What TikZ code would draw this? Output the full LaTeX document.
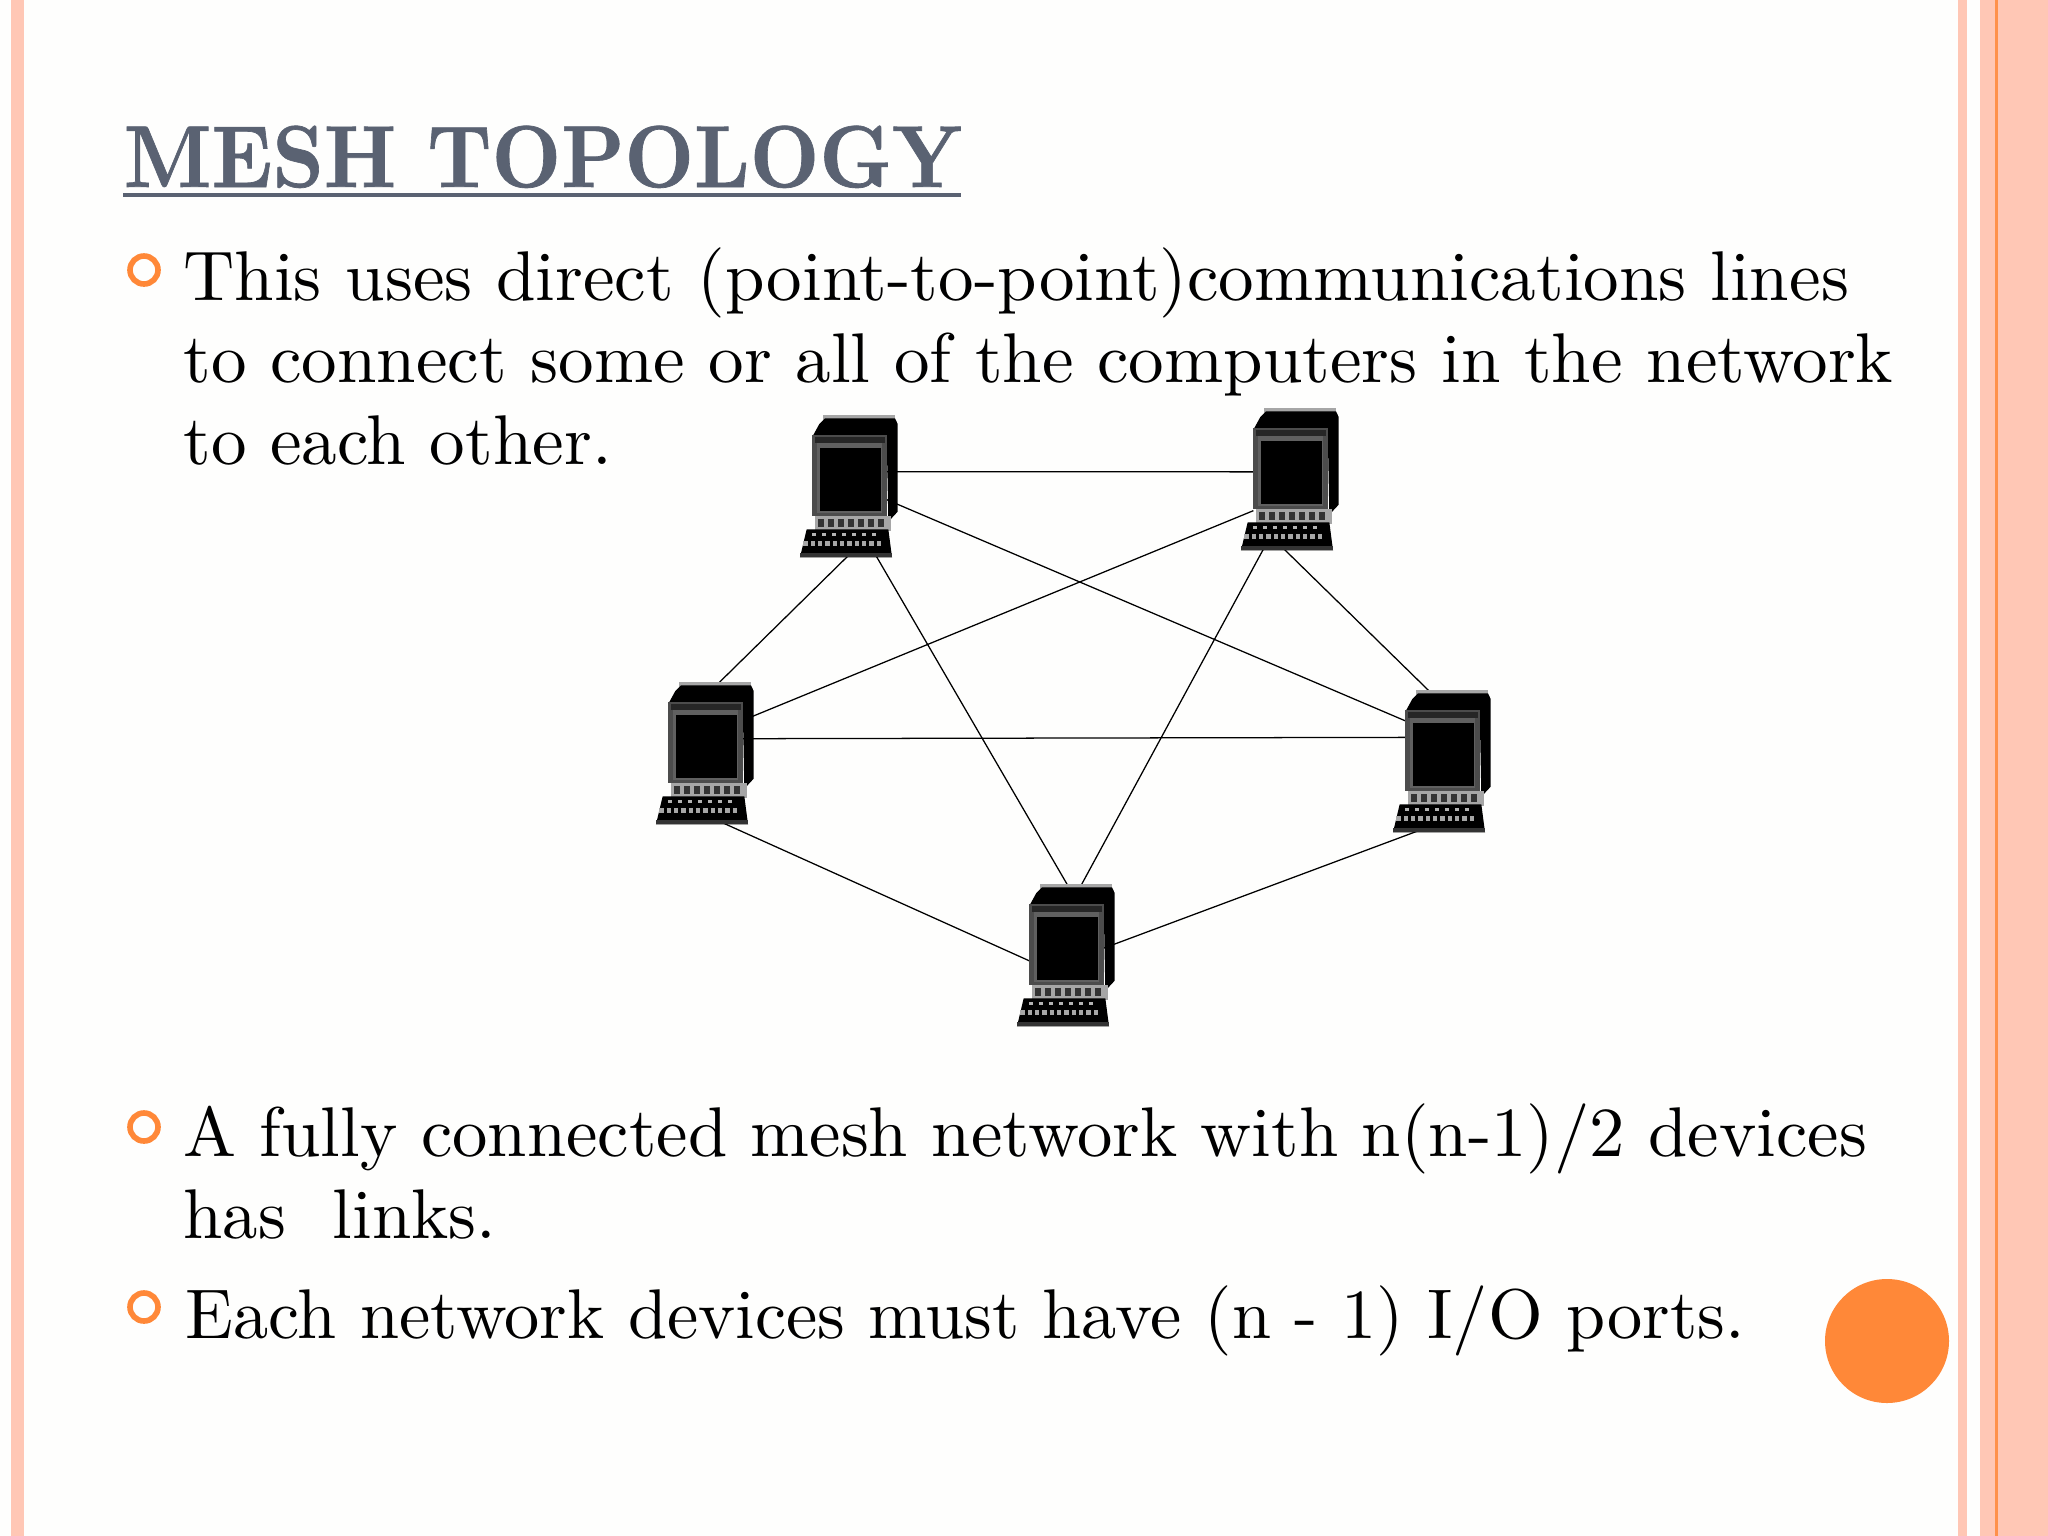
\documentclass[tikz,border=0pt]{standalone}
\usepackage{fontspec}
\usetikzlibrary{positioning}
\newfontfamily\titlefont{Latin Modern Roman}[BoldFeatures={FakeBold=0.8}]
\definecolor{stripe}{HTML}{FFC7B5}
\definecolor{accent}{HTML}{FF8838}
\definecolor{slate}{HTML}{5A6272}
\definecolor{paper}{HTML}{FEFEFD}

\tikzset{
  pcport/.style={rectangle, minimum width=.732cm, minimum height=1.044cm, inner sep=0pt, outer sep=0pt},
  link/.style={black, line width=.36pt},
  bodytext/.style={anchor=north west, align=left, inner sep=0pt, xscale=2.02, yscale=2, transform shape, font=\fontsize{10}{11.65}\selectfont},
  bullet/.style={draw=accent, line width=1.6pt},
  pics/pccomputer/.style={code={
    \begin{scope}[x=.03333mm, y=-.03333mm, shift={(-207,-264)}]
      % case and side
      \fill[gray!70] (130,46) rectangle (345,60);
      \fill[black] (118,72) -- (135,55) -- (345,55) -- (353,72) -- (353,335) -- (325,365) -- (320,110) -- (100,105) -- cycle;
      % monitor front
      \fill[gray!60!black] (97,105) rectangle (322,347);
      \fill[black!85] (106,110) rectangle (316,128);
      \fill[gray!75!black] (110,130) rectangle (306,340);
      \fill[black] (120,145) rectangle (302,332);
      % base
      \fill[gray!70] (105,347) rectangle (332,392);
      \foreach \kx in {115,145,...,315} {\fill[black!80] (\kx,358) rectangle +(18,22);}
      % keyboard
      \fill[black] (80,388) -- (325,388) -- (336,472) -- (60,472) -- cycle;
      \foreach \kx in {70,92,...,310} {\fill[gray!70] (\kx,422) rectangle +(13,16);}
      \foreach \kx in {95,125,...,275} {\fill[gray!60] (\kx,398) rectangle +(12,10);}
      \fill[gray!40!black] (60,458) rectangle (336,472);
    \end{scope}
  }}
}

\begin{document}
\begin{tikzpicture}[x=.01cm, y=-.01cm]
\useasboundingbox (0,0) rectangle (2048,1536);

% Background and side stripes
\fill[paper] (0,0) rectangle (2048,1536);
\fill[stripe] (11,0) rectangle (24,1536);
\fill[stripe] (1958,0) rectangle (1967,1536);
\fill[stripe] (1980,0) rectangle (2048,1536);
\fill[accent!85!stripe] (1995,0) rectangle (1998,1536);

% Title
\node[anchor=base west, inner sep=0pt, xscale=2.29, yscale=2.5, transform shape, font=\fontsize{10}{12}\selectfont\titlefont\bfseries, text=slate] (title) at (122,187) {MESH TOPOLOGY};
\fill[slate] (123,193) rectangle (961,197);

% Bullets
\draw[bullet] (144,270) circle (14);
\draw[bullet] (144,1127) circle (14);
\draw[bullet] (144,1307) circle (14);

% Text
\node[bodytext] (first) at (182,246) {This uses direct (point-to-point)communications lines\\to connect some or all of the computers in the network\\to each other.};
\node[bodytext, xscale=.995] (second) at (182,1102) {A fully connected mesh network with n(n-1)/2 devices\\has\ \ links.};
\node[bodytext, xscale=.99] (third) at (184,1284) {Each network devices must have (n - 1) I/O ports.};

% Computers
\node[pcport] (pcTL) at (849,488) {};
\node[pcport] (pcTR) at (1290,481) {};
\node[pcport] (pcL) at (705,755) {};
\node[pcport] (pcR) at (1442,763) {};
\node[pcport] (pcB) at (1066,957) {};

% Links go under the computers
\draw[link] (pcTL.24.9) -- (pcTR.166);
\draw[link] (pcTL.-17.1) -- (pcR.131.3);
\draw[link] (pcTL.-74.2) -- (pcL.97.5);
\draw[link] (pcTL.-71.2) -- (pcB.76.6);
\draw[link] (pcTR.219.2) -- (pcL.43.2);
\draw[link] (pcTR.-113.4) -- (pcR.82.6);
\draw[link] (pcTR.-109.7) -- (pcB.85.9);
\draw[link] (pcL.24.9) -- (pcR.145.8);
\draw[link] (pcL.-108.8) -- (pcB.186.3);
\draw[link] (pcR.-71) -- (pcB.13.3);

\foreach \pcname in {pcTL,pcTR,pcL,pcR,pcB}
  \pic at (\pcname) {pccomputer};

% Orange disc
\fill[accent] (1887,1341) circle (62);

\end{tikzpicture}
\end{document}
